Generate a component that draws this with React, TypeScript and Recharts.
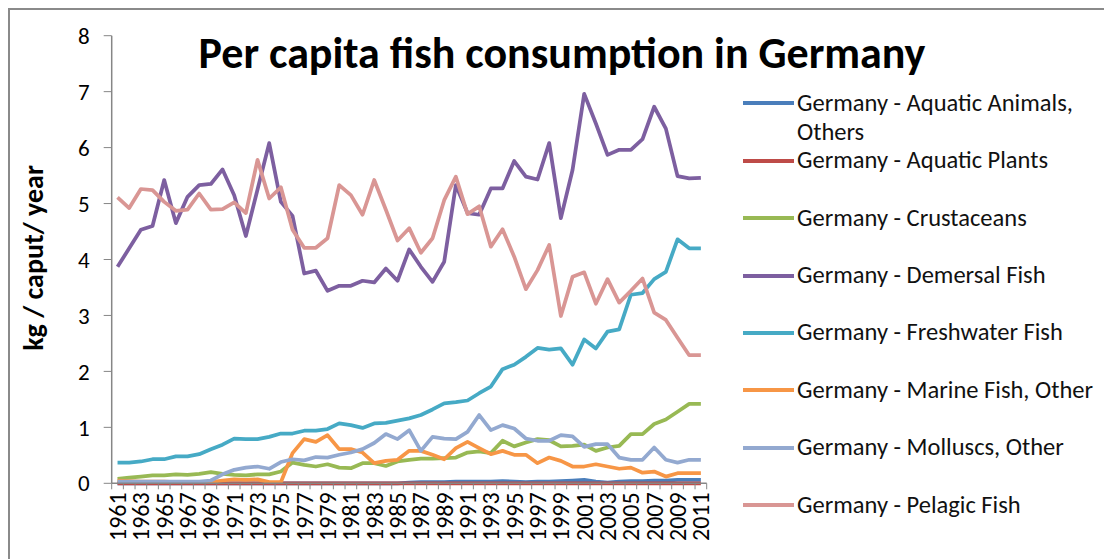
import { LineChart, Line, XAxis, YAxis } from "recharts";

const years = [
  "1961", "1962", "1963", "1964", "1965", "1966", "1967", "1968", "1969", "1970",
  "1971", "1972", "1973", "1974", "1975", "1976", "1977", "1978", "1979", "1980",
  "1981", "1982", "1983", "1984", "1985", "1986", "1987", "1988", "1989", "1990",
  "1991", "1992", "1993", "1994", "1995", "1996", "1997", "1998", "1999", "2000",
  "2001", "2002", "2003", "2004", "2005", "2006", "2007", "2008", "2009", "2010",
  "2011",
];

const aquaticAnimals = [
  0, 0, 0, 0, 0, 0, 0, 0, 0, 0,
  0, 0, 0, 0, 0, 0, 0, 0, 0, 0,
  0, 0, 0, 0, 0, 0.01, 0.02, 0.02, 0.02, 0.03,
  0.03, 0.03, 0.03, 0.04, 0.03, 0.02, 0.03, 0.03, 0.04, 0.05,
  0.06, 0.03, 0.01, 0.03, 0.04, 0.04, 0.05, 0.05, 0.06, 0.06,
  0.06,
];

const aquaticPlants = [
  0, 0, 0, 0, 0, 0, 0, 0, 0, 0,
  0, 0, 0, 0, 0, 0, 0, 0, 0, 0,
  0, 0, 0, 0, 0, 0, 0, 0, 0, 0,
  0, 0, 0, 0, 0, 0, 0, 0, 0, 0,
  0, 0, 0, 0, 0, 0, 0, 0, 0, 0,
  0,
];

const crustaceans = [
  0.08, 0.1, 0.12, 0.14, 0.14, 0.16, 0.15, 0.17, 0.2, 0.17,
  0.15, 0.14, 0.16, 0.16, 0.21, 0.37, 0.33, 0.3, 0.34, 0.28,
  0.27, 0.36, 0.36, 0.31, 0.39, 0.42, 0.44, 0.44, 0.45, 0.46,
  0.55, 0.57, 0.54, 0.76, 0.66, 0.73, 0.79, 0.77, 0.66, 0.67,
  0.69, 0.58, 0.64, 0.67, 0.88, 0.88, 1.06, 1.14, 1.28, 1.42,
  1.42,
];

const demersal = [
  3.87, 4.2, 4.53, 4.6, 5.42, 4.65, 5.12, 5.33, 5.35, 5.61,
  5.15, 4.42, 5.25, 6.08, 5.03, 4.78, 3.75, 3.8, 3.44, 3.53,
  3.53, 3.62, 3.59, 3.84, 3.62, 4.18, 3.87, 3.6, 3.96, 5.33,
  4.83, 4.8, 5.27, 5.27, 5.76, 5.48, 5.43, 6.08, 4.74, 5.6,
  6.96, 6.43, 5.87, 5.96, 5.96, 6.15, 6.73, 6.34, 5.49, 5.45,
  5.46,
];

const freshwater = [
  0.37, 0.37, 0.39, 0.43, 0.43, 0.48, 0.48, 0.52, 0.61, 0.69,
  0.8, 0.79, 0.79, 0.83, 0.89, 0.89, 0.94, 0.94, 0.97, 1.07,
  1.04, 0.99, 1.07, 1.08, 1.12, 1.16, 1.22, 1.32, 1.43, 1.45,
  1.48, 1.61, 1.73, 2.04, 2.12, 2.26, 2.42, 2.39, 2.41, 2.12,
  2.57, 2.41, 2.71, 2.75, 3.37, 3.4, 3.65, 3.78, 4.36, 4.2,
  4.2,
];

const marineOther = [
  0.05, 0.04, 0.03, 0.03, 0.03, 0.02, 0.02, 0.02, 0.02, 0.05,
  0.07, 0.06, 0.07, 0.02, 0.02, 0.54, 0.79, 0.74, 0.86, 0.61,
  0.61, 0.55, 0.36, 0.4, 0.42, 0.58, 0.58, 0.51, 0.43, 0.63,
  0.74, 0.63, 0.52, 0.58, 0.51, 0.51, 0.36, 0.46, 0.4, 0.3,
  0.3, 0.34, 0.3, 0.26, 0.28, 0.19, 0.21, 0.12, 0.18, 0.18,
  0.18,
];

const molluscs = [
  0.03, 0.03, 0.03, 0.03, 0.03, 0.03, 0.03, 0.03, 0.05, 0.16,
  0.24, 0.28, 0.3, 0.26, 0.38, 0.43, 0.41, 0.47, 0.46, 0.51,
  0.55, 0.61, 0.72, 0.88, 0.79, 0.95, 0.58, 0.83, 0.8, 0.79,
  0.92, 1.22, 0.95, 1.04, 0.98, 0.8, 0.76, 0.76, 0.86, 0.84,
  0.65, 0.7, 0.7, 0.46, 0.42, 0.42, 0.64, 0.42, 0.37, 0.42,
  0.42,
];

const pelagic = [
  5.11, 4.92, 5.26, 5.24, 5.03, 4.87, 4.89, 5.18, 4.89, 4.9,
  5.02, 4.83, 5.78, 5.09, 5.29, 4.53, 4.21, 4.21, 4.38, 5.33,
  5.15, 4.8, 5.42, 4.89, 4.34, 4.56, 4.12, 4.38, 5.06, 5.48,
  4.81, 4.95, 4.23, 4.54, 4.05, 3.47, 3.81, 4.26, 2.99, 3.69,
  3.77, 3.21, 3.65, 3.23, 3.44, 3.66, 3.05, 2.92, 2.6, 2.29,
  2.29,
];

const seriesNames = [
  "Germany - Aquatic Animals, Others",
  "Germany - Aquatic Plants",
  "Germany - Crustaceans",
  "Germany - Demersal Fish",
  "Germany - Freshwater Fish",
  "Germany - Marine Fish, Other",
  "Germany - Molluscs, Other",
  "Germany - Pelagic Fish",
];

const seriesValues = [
  aquaticAnimals,
  aquaticPlants,
  crustaceans,
  demersal,
  freshwater,
  marineOther,
  molluscs,
  pelagic,
];

const seriesColors = [
  "#4A7EBB",
  "#BE4B48",
  "#98B954",
  "#7D5FA0",
  "#46AAC5",
  "#F79646",
  "#93A9D0",
  "#D99694",
];

const yTicks = [0, 1, 2, 3, 4, 5, 6, 7, 8];

const data = years.map((year, i) => {
  const row: Record<string, string | number> = { year };
  seriesValues.forEach((vals, s) => {
    row[`s${s}`] = vals[i];
  });
  return row;
});

const FONT = "Carlito, Calibri, Lato, sans-serif";
const AXIS_COLOR = "#868686";
const PLOT_WIDTH = 595;
const HALF_BAND = PLOT_WIDTH / years.length / 2;

function YearTick(props: any) {
  const { x, y, payload, index } = props;
  const axisY = y - 8;
  const isLast = index === years.length - 1;
  return (
    <g>
      <line x1={x - HALF_BAND} x2={x - HALF_BAND} y1={axisY} y2={axisY + 6} stroke={AXIS_COLOR} />
      {isLast && (
        <line x1={x + HALF_BAND} x2={x + HALF_BAND} y1={axisY} y2={axisY + 6} stroke={AXIS_COLOR} />
      )}
      {index % 2 === 0 && (
        <text
          transform={`translate(${x},${axisY + 9}) rotate(-90)`}
          textAnchor="end"
          dominantBaseline="central"
          fontFamily={FONT}
          fontSize={24}
          fill="#000"
        >
          {payload.value}
        </text>
      )}
    </g>
  );
}

export default function App() {
  return (
    <div style={{ position: "relative", width: 1104, height: 551, background: "#fff", fontFamily: FONT }}>
      <div
        style={{
          position: "absolute",
          left: 0,
          top: 0,
          width: 1104,
          height: 551,
          borderLeft: "2px solid #8a8a8a",
          borderTop: "2px solid #8a8a8a",
          boxSizing: "border-box",
        }}
      />
      <div
        style={{
          position: "absolute",
          left: 0,
          width: 1108,
          top: 23,
          textAlign: "center",
          fontSize: 44,
          fontWeight: "bold",
          lineHeight: 1,
          color: "#000",
        }}
      >
        Per capita fish consumption in Germany
      </div>
      <div
        style={{
          position: "absolute",
          left: 25,
          top: 250,
          transform: "translate(-50%, -50%) rotate(-90deg)",
          whiteSpace: "nowrap",
          fontSize: 28,
          fontWeight: "bold",
          color: "#000",
        }}
      >
        kg / caput/ year
      </div>
      <div style={{ position: "absolute", left: 0, top: 0 }}>
        <LineChart
          width={1104}
          height={551}
          data={data}
          margin={{ top: 27.7, right: 405.3, bottom: 0, left: 0 }}
        >
          <XAxis
            dataKey="year"
            interval={0}
            padding={{ left: HALF_BAND, right: HALF_BAND }}
            height={75.7}
            axisLine={{ stroke: AXIS_COLOR, strokeWidth: 1.5 }}
            tickLine={false}
            tickSize={6}
            tickMargin={2}
            tick={<YearTick />}
          />
          <YAxis
            domain={[0, 8]}
            ticks={yTicks}
            width={103.7}
            interval={0}
            axisLine={{ stroke: AXIS_COLOR, strokeWidth: 1.5 }}
            tickLine={{ stroke: AXIS_COLOR }}
            tickSize={8}
            tickMargin={14}
            tick={{ fill: "#000", fontSize: 23, fontFamily: FONT }}
          />
          {seriesNames.map((name, s) => (
            <Line
              key={name}
              name={name}
              type="linear"
              dataKey={`s${s}`}
              stroke={seriesColors[s]}
              strokeWidth={3.75}
              strokeLinejoin="round"
              dot={false}
              activeDot={false}
              isAnimationActive={false}
            />
          ))}
        </LineChart>
      </div>
      {seriesNames.map((name, s) => (
        <div
          key={name}
          style={{
            position: "absolute",
            left: 735,
            top: 95.3 + s * 57.4 - 14.5,
            display: "flex",
            alignItems: "flex-start",
          }}
        >
          <div
            style={{
              width: 51,
              height: 4,
              marginTop: 12.5,
              marginRight: 3,
              background: seriesColors[s],
            }}
          />
          <div style={{ width: 312, fontSize: 24.5, lineHeight: "29px", color: "#111" }}>{name}</div>
        </div>
      ))}
    </div>
  );
}
